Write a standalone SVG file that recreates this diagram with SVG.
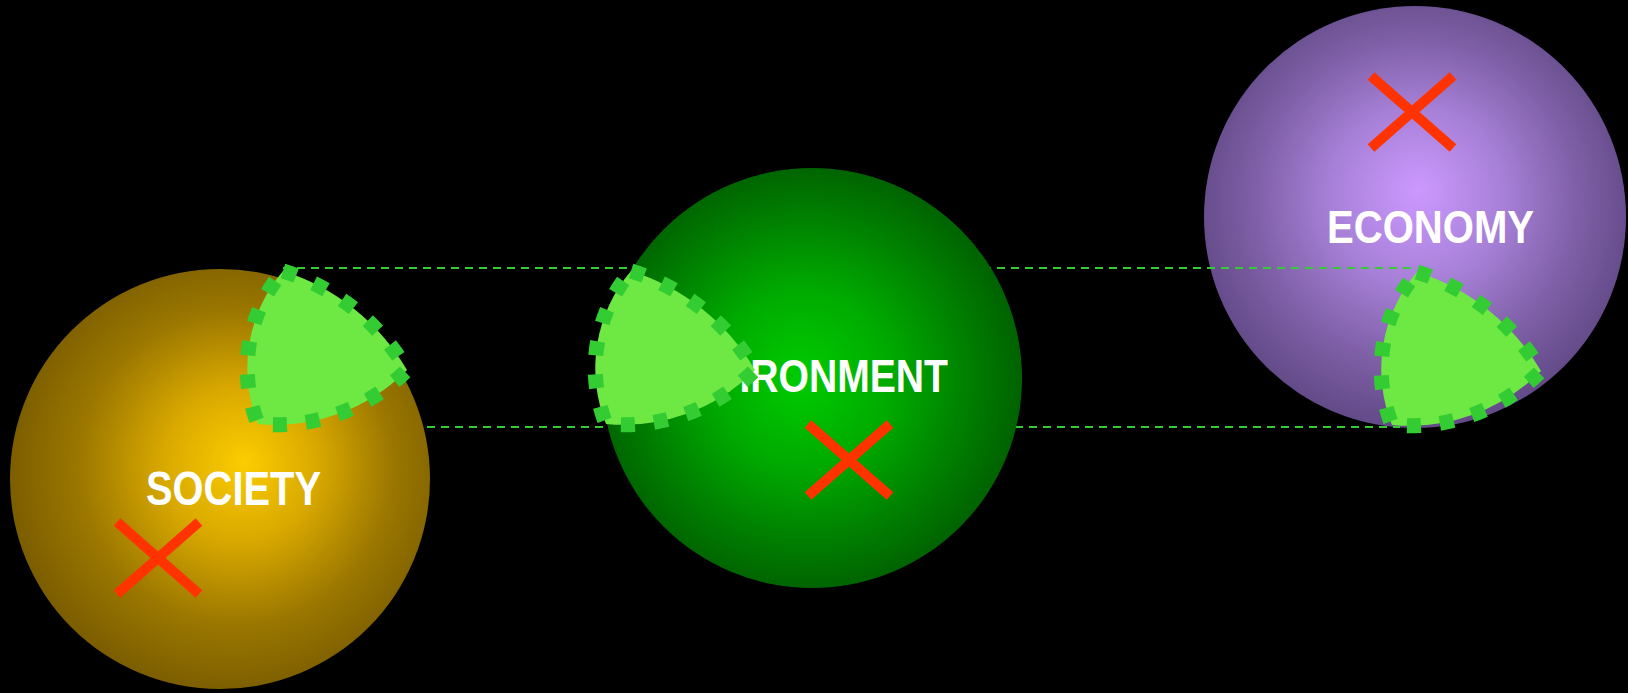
<svg xmlns="http://www.w3.org/2000/svg" xmlns:xlink="http://www.w3.org/1999/xlink" width="1628" height="693" viewBox="0 0 1628 693">
  <style>
    .label { font-family: "Liberation Sans", Arial, sans-serif; font-weight: bold; fill: #ffffff; }
    .cross { stroke: #ff3300; stroke-width: 10; fill: none; stroke-linecap: butt; }
    .tri { fill: #6ee843; stroke: #33cc33; stroke-width: 15; stroke-dasharray: 14 19; stroke-linejoin: miter; }
    .link { stroke: #33cc33; stroke-width: 2; stroke-dasharray: 8 6; fill: none; }
  </style>
  <defs>
    <radialGradient id="gSoc" gradientUnits="userSpaceOnUse" cx="232" cy="470" r="222" fx="245" fy="462">
      <stop offset="0" stop-color="#fccc00"/>
      <stop offset="0.35" stop-color="#d8a800"/>
      <stop offset="0.7" stop-color="#9c7800"/>
      <stop offset="1" stop-color="#7c5e00"/>
    </radialGradient>
    <radialGradient id="gEnv" gradientUnits="userSpaceOnUse" cx="808" cy="378" r="222" fx="800" fy="378">
      <stop offset="0" stop-color="#00cc00"/>
      <stop offset="0.4" stop-color="#00aa00"/>
      <stop offset="0.75" stop-color="#007d00"/>
      <stop offset="1" stop-color="#005e00"/>
    </radialGradient>
    <radialGradient id="gEco" gradientUnits="userSpaceOnUse" cx="1415" cy="205" r="222" fx="1418" fy="190">
      <stop offset="0" stop-color="#cc99ff"/>
      <stop offset="0.4" stop-color="#a67fd6"/>
      <stop offset="0.75" stop-color="#7c5ea4"/>
      <stop offset="1" stop-color="#634a88"/>
    </radialGradient>
    <path id="triShape" d="M0,0 A220,220 0 0,1 124,99 A185,185 0 0,1 -25,153 A150,150 0 0,1 0,0 Z"/>
    <path id="xShape" d="M-41,-36 L41,36 M-41,36 L41,-36"/>
  </defs>

  <rect x="0" y="0" width="1628" height="693" fill="#000000"/>

  <g id="economy">
    <circle cx="1415" cy="217" r="211" fill="url(#gEco)"/>
    <text class="label" x="1327" y="243" font-size="46" textLength="207" lengthAdjust="spacingAndGlyphs">ECONOMY</text>
    <use xlink:href="#xShape" class="cross" transform="translate(1412,112)"/>
    <use xlink:href="#triShape" class="tri" transform="translate(1417,272)"/>
  </g>

  <g id="connectors">
    <line class="link" x1="283" y1="268" x2="1416" y2="268"/>
    <line class="link" x1="259" y1="427" x2="1400" y2="427"/>
  </g>

  <g id="society">
    <circle cx="220" cy="479" r="210" fill="url(#gSoc)"/>
    <text class="label" x="146" y="505" font-size="48" textLength="175" lengthAdjust="spacingAndGlyphs">SOCIETY</text>
    <use xlink:href="#xShape" class="cross" transform="translate(158,558)"/>
    <use xlink:href="#triShape" class="tri" transform="translate(283,271)"/>
  </g>

  <g id="environment">
    <circle cx="812" cy="378" r="210" fill="url(#gEnv)"/>
    <text class="label" x="659" y="392" font-size="46" textLength="289" lengthAdjust="spacingAndGlyphs">ENVIRONMENT</text>
    <use xlink:href="#xShape" class="cross" transform="translate(849,460)"/>
    <use xlink:href="#triShape" class="tri" transform="translate(631,271)"/>
  </g>
</svg>
